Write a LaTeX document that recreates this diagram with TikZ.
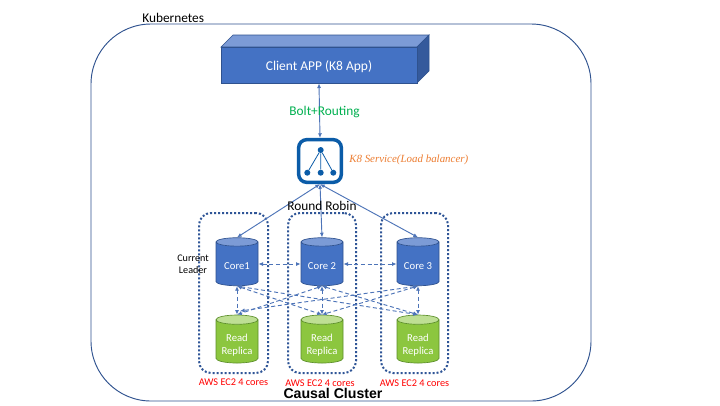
\documentclass[tikz,border=0pt]{standalone}
\usepackage{fontspec}
\setmainfont{Carlito}
\newfontfamily\serifit{Liberation Serif}
\newfontfamily\headsans{Liberation Sans}
\usetikzlibrary{shapes.geometric,arrows.meta}
\definecolor{blueA}{HTML}{4472C4}
\definecolor{blueTop}{HTML}{7C9BD6}
\definecolor{blueSide}{HTML}{355A9C}
\definecolor{blueEdge}{HTML}{2F528F}
\definecolor{greenA}{HTML}{8CC63F}
\definecolor{greenTop}{HTML}{BEDF94}
\definecolor{greenEdge}{HTML}{5C8F2A}
\definecolor{arrowblue}{HTML}{4D74B8}
\definecolor{lbicon}{HTML}{0B5CA8}
\definecolor{dotblue}{HTML}{2F5597}
\definecolor{boltgreen}{HTML}{00B050}
\definecolor{svcorange}{HTML}{ED7D31}
\tikzset{
  x=0.75pt,y=-0.75pt,
  cyl/.style={cylinder,shape border rotate=90,aspect=0.3,minimum width=31.5pt,minimum height=36pt,draw=#1,line width=0.5pt,inner sep=0pt,cylinder uses custom fill,font=\fontsize{8pt}{9.6pt}\selectfont,align=center},
  cyltext/.style={inner sep=0pt,text=white,font=\fontsize{8pt}{9.6pt}\selectfont,align=center},
  zone/.style={draw=dotblue,line width=1.5pt,dash pattern=on 1.5pt off 1.5pt,rounded corners=9pt,minimum height=120pt,inner sep=0pt},
  redtext/.style={text=red,font=\fontsize{7.7pt}{9pt}\selectfont,inner sep=0pt},
  solidarrow/.style={draw=arrowblue,line width=0.7pt,{Latex[length=3.5pt,width=3pt]}-{Latex[length=3.5pt,width=3pt]}},
  dasharrow/.style={draw=arrowblue,line width=0.7pt,dash pattern=on 3pt off 2pt,{Latex[length=3.5pt,width=3pt]}-{Latex[length=3.5pt,width=3pt]}},
  lbdot/.style={circle,fill=lbicon,inner sep=0pt,minimum size=4.5pt},
  plain/.style={inner sep=0pt,font=\fontsize{10pt}{12pt}\selectfont}
}
\begin{document}
\begin{tikzpicture}
\useasboundingbox (0,0) rectangle (720,405);
\fill[white] (0,0) rectangle (720,405);
% Kubernetes frame
\node[draw=blueEdge,line width=0.7pt,rounded corners=45pt,minimum width=375pt,minimum height=282.75pt,inner sep=0pt] (k8s) at (341,212.5) {};
\node[plain,anchor=base west] (k8slabel) at (142,22.7) {Kubernetes};
% Client app
\fill[blueTop,draw=blueEdge,line width=0.5pt] (221,47) -- (233,35) -- (429,35) -- (417,47) -- cycle;
\fill[blueSide,draw=blueEdge,line width=0.5pt] (417,47) -- (429,35) -- (429,71) -- (417,83) -- cycle;
\node[fill=blueA,draw=blueEdge,line width=0.5pt,minimum width=147pt,minimum height=27pt,inner sep=0pt] (client) at (319,65) {};
\node[inner sep=0pt,text=white,font=\fontsize{10.1pt}{12pt}\selectfont] (clienttext) at (319,67) {Client APP (K8 App)};
% Icon
\node[draw=lbicon,line width=2.6pt,rounded corners=6pt,minimum width=32pt,minimum height=32pt,inner sep=0pt,fill=white] (lb) at (320,161) {};
\node[lbdot] (d0) at (320.7,150) {};
\node[lbdot] (d1) at (307.3,172.7) {};
\node[lbdot] (d2) at (320.7,172.7) {};
\node[lbdot] (d3) at (333.3,172.7) {};
\draw[lbicon,line width=0.6pt] (d0)--(d1) (d0)--(d2) (d0)--(d3);
% Zones
\node[zone,minimum width=51.75pt] (z1) at (233.5,293) {};
\node[zone,minimum width=51pt] (z2) at (322,293) {};
\node[zone,minimum width=50.25pt] (z3) at (414.5,293) {};
% cylinders
\foreach \n/\x/\t in {core1/237/Core1,core2/322/Core 2,core3/418/Core 3}{
  \node[cyl=blueEdge,cylinder body fill=blueA,cylinder end fill=blueTop] (\n) at (\x,264) {\phantom{Core 2}};
  \node[cyltext] (\n text) at (\x,266.5) {\t};
}
\foreach \n/\x in {rr1/237,rr2/322,rr3/418}{
  \node[cyl=greenEdge,cylinder body fill=greenA,cylinder end fill=greenTop] (\n) at (\x,341.5) {\phantom{Read}\\\phantom{Replica}};
  \node[cyltext] (\n text) at (\x,345) {Read\\Replica};
}
\coordinate (rr1up) at (240,311);
% arrows
\draw[solidarrow] (client.south) -- (lb.north);
\draw[solidarrow] (lb.south) -- (core1.top);
\draw[solidarrow] (lb.south) -- (core2.top);
\draw[solidarrow] (lb.south) -- (core3.top);
\draw[dasharrow] (core1.east) -- (core2.west);
\draw[dasharrow] (core2.east) -- (core3.west);
\draw[dasharrow] (core1.bottom) -- (rr1.top);
\draw[dasharrow] (core2.bottom) -- (rr2.top);
\draw[dasharrow] (core3.bottom) -- (rr3.top);
\draw[dasharrow] (core1.bottom) -- (rr2.top);
\draw[dasharrow] (core1.bottom) -- (rr3.top);
\draw[dasharrow] (core2.bottom) -- (rr1.top);
\draw[dasharrow] (core2.bottom) -- (rr3.top);
\draw[dasharrow] (core3.bottom) -- (rr1up);
\draw[dasharrow] (core3.bottom) -- (rr2.top);
% text
\node[plain,text=boltgreen] (bolt) at (324.5,112.5) {Bolt+Routing};
\node[inner sep=0pt,text=svcorange,font=\serifit\itshape\fontsize{8.2pt}{10pt}\selectfont,anchor=west] (svc) at (349,160) {K8 Service(Load balancer)};
\node[plain] (rr) at (322,206) {Round Robin};
\node[inner sep=0pt,font=\fontsize{7.6pt}{9pt}\selectfont,align=center] (lead) at (193,264) {Current\\Leader};
\node[redtext] (a1) at (233.5,382.5) {AWS EC2 4 cores};
\node[redtext] (a2) at (320,383.5) {AWS EC2 4 cores};
\node[redtext] (a3) at (414.5,383) {AWS EC2 4 cores};
\node[inner sep=0pt,font=\headsans\bfseries\fontsize{10.6pt}{12pt}\selectfont] (cc) at (333,393.5) {Causal Cluster};
\end{tikzpicture}
\end{document}
